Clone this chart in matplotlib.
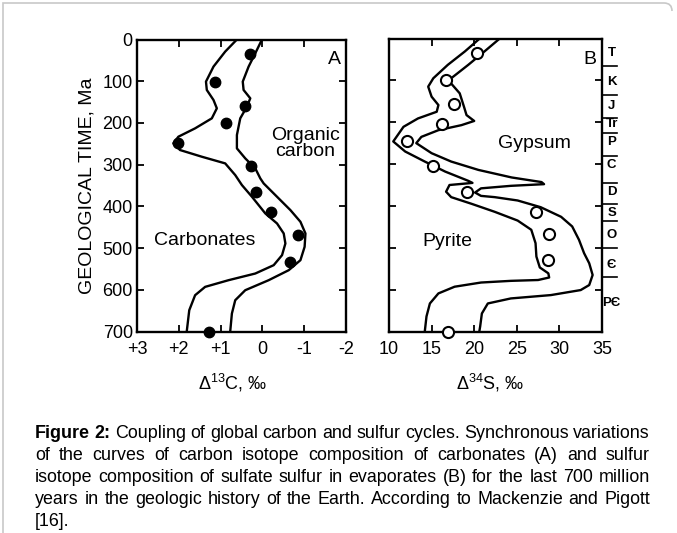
import matplotlib
matplotlib.use("Agg")
import matplotlib.pyplot as plt
from matplotlib.path import Path
from matplotlib.patches import PathPatch
from matplotlib import font_manager

plt.rcParams["font.family"] = ["Liberation Sans", "DejaVu Sans"]
plt.rcParams["mathtext.default"] = "regular"

W, H = 677, 533

# ---- panel A: delta 13C (per mil) vs age (Ma)
carb_d13c = [0.61, 0.89, 1.17, 1.35, 1.33, 1.17, 1.09, 1.21, 1.61, 2.01, 2.13, 1.97, 1.45,
             0.89, 0.65, 0.49, 0.25, -0.07, -0.35, -0.51, -0.55, -0.47, -0.27, 0.17, 0.81,
             1.37, 1.61, 1.75, 1.81]
carb_age = [0, 29, 65, 101, 121, 145, 165, 189, 213, 233, 249, 265, 281,
            297, 325, 349, 377, 417, 441, 465, 489, 517, 541, 561, 577,
            593, 613, 649, 700]
org_d13c = [0.01, 0.17, 0.33, 0.47, 0.45, 0.29, 0.37, 0.53, 0.61, 0.61, 0.41, 0.17, 0.05,
            -0.03, -0.31, -0.67, -0.91, -1.03, -1.01, -0.91, -0.63, -0.15, 0.41, 0.65,
            0.73, 0.77]
org_age = [0, 33, 65, 101, 121, 141, 161, 189, 229, 261, 285, 309, 333,
           345, 373, 409, 437, 465, 497, 529, 553, 577, 601, 625, 657, 700]
dots_a_d13c = [0.29, 1.13, 0.41, 0.87, 2.03, 0.27, 0.15, -0.21, -0.85, -0.67, 1.27]
dots_a_age = [35, 101, 159, 201, 247, 303, 366, 414, 469, 533, 700]

# ---- panel B: delta 34S (per mil) vs age (Ma)
left_d34s = [20.65, 18.9, 16.9, 15.2, 14.6, 15.0, 15.8, 15.6, 13.4, 11.7, 10.5, 11.9,
             14.2, 16.6, 19.3, 19.8, 17.1, 16.7, 17.3, 19.7, 22.4, 25.1, 26.7, 27.2,
             27.3, 27.7, 28.7, 28.8, 27.5, 24.3, 20.8, 17.7, 15.8, 14.8, 14.4, 14.2]
left_age = [0, 31, 63, 95, 115, 139, 159, 175, 191, 211, 246, 270,
            294, 318, 340, 345, 350, 366, 379, 395, 414, 435, 457, 489,
            521, 547, 561, 571, 577, 579, 583, 593, 609, 633, 664, 700]
right_d34s = [23.0, 21.2, 19.3, 17.3, 17.1, 18.3, 18.8, 19.1, 20.0, 18.5, 15.8, 13.8,
              13.2, 15.0, 17.3, 20.5, 24.4, 27.9, 28.2, 24.3, 20.8, 20.1, 20.8, 22.4,
              25.1, 27.8, 30.2, 31.5, 32.3, 32.9, 33.5, 33.9, 33.5, 32.5, 29.0, 24.3,
              21.6, 20.9, 20.7, 20.6]
right_age = [0, 31, 63, 95, 103, 131, 163, 183, 197, 207, 219, 235,
             250, 274, 294, 314, 332, 343, 348, 352, 358, 368, 376, 379,
             387, 403, 426, 449, 481, 513, 537, 565, 589, 601, 613, 621,
             633, 657, 688, 700]
dots_b_d34s = [20.3, 16.7, 17.6, 16.2, 12.1, 15.2, 19.1, 27.2, 28.8, 28.7, 16.9]
dots_b_age = [35, 99, 157, 205, 246, 304, 366, 415, 467, 529, 700]

# ---- geological periods (old time scale)
period_names = ["T", "K", "J", "Tr", "P", "C", "D", "S", "O", "Є", "PЄ"]
period_label_age = [35, 104, 162, 205, 247, 302, 366, 417, 469, 540, 632]
period_bounds = [65, 136, 190, 225, 280, 345, 395, 435, 500, 570]

caption_lines = [
    "Coupling of global carbon and sulfur cycles. Synchronous variations",
    "of the curves of carbon isotope composition of carbonates (A) and sulfur",
    "isotope composition of sulfate sulfur in evaporates (B) for the last 700 million",
    "years in the geologic history of the Earth. According to Mackenzie and Pigott",
    "[16].",
]

fig = plt.figure(figsize=(W / 100, H / 100), dpi=100)


def box(x0, y0, x1, y1):
    return [x0 / W, 1 - y1 / H, (x1 - x0) / W, (y1 - y0) / H]


ax_a = fig.add_axes(box(137, 39.5, 346, 331.5))
ax_b = fig.add_axes(box(389, 38.5, 602, 331.5))

for ax in (ax_a, ax_b):
    ax.set_ylim(700, 0)
    ax.set_yticks(range(0, 701, 100))
    ax.tick_params(direction="in", length=5, width=1.3, top=True, right=True,
                   labelsize=13, pad=3, colors="black")
    ax.tick_params(axis="x", pad=7)
    for sp in ax.spines.values():
        sp.set_linewidth(1.7)

lw = 1.7
ax_a.set_xlim(3, -2)
ax_a.set_xticks([3, 2, 1, 0, -1, -2])
ax_a.set_xticklabels(["+3", "+2", "+1", "0", "-1", "-2"])
ax_a.plot(carb_d13c, carb_age, color="black", lw=lw, solid_joinstyle="round")
ax_a.plot(org_d13c, org_age, color="black", lw=lw, solid_joinstyle="round")
ax_a.plot(dots_a_d13c, dots_a_age, "o", ms=7.5, color="black", clip_on=False, zorder=3)
ax_a.text(0.945, 0.93, "A", transform=ax_a.transAxes, fontsize=14, ha="center", va="center")
ax_a.text(-1.03, 250, "Organic\ncarbon", fontsize=14, ha="center", va="center", linespacing=0.95)
ax_a.text(1.37, 481, "Carbonates", fontsize=14, ha="center", va="center")
fig.text(87 / W, 1 - 186 / H, "GEOLOGICAL TIME, Ma", fontsize=14, rotation=90,
         ha="center", va="center")

ax_b.set_xlim(10, 35)
ax_b.set_xticks([10, 15, 20, 25, 30, 35])
ax_b.tick_params(labelleft=False)
ax_b.plot(left_d34s, left_age, color="black", lw=lw, solid_joinstyle="round")
ax_b.plot(right_d34s, right_age, color="black", lw=lw, solid_joinstyle="round")
ax_b.plot(dots_b_d34s, dots_b_age, "o", ms=8, mfc="white", mec="black", mew=1.5,
          clip_on=False, zorder=3)
ax_b.text(0.945, 0.93, "B", transform=ax_b.transAxes, fontsize=14, ha="center", va="center")
ax_b.text(27.1, 250, "Gypsum", fontsize=14, ha="center", va="center")
ax_b.text(16.9, 486, "Pyrite", fontsize=14, ha="center", va="center")

tr = ax_b.get_yaxis_transform()
for name, age in zip(period_names, period_label_age):
    ax_b.text(1.045, age, name, transform=tr, fontsize=9.5, fontweight="bold",
              ha="center", va="center", clip_on=False)
for age in period_bounds:
    ax_b.plot([1.0, 1.07], [age, age], transform=tr, color="black", lw=1.2, clip_on=False)

fig.text(233 / W, 1 - 390 / H, "Δ$^{13}$C, ‰", fontsize=13, ha="center", va="baseline")
fig.text(490 / W, 1 - 390 / H, "Δ$^{34}$S, ‰", fontsize=13, ha="center", va="baseline")

# caption, justified between x0 and x1 except the last line
x0, x1 = 35, 650
baselines = [438, 460, 482, 504, 526]
cap_family = "Liberation Sans"
try:
    font_manager.findfont(font_manager.FontProperties(family="Liberation Sans Narrow"),
                          fallback_to_default=False)
    cap_family = "Liberation Sans Narrow"
except ValueError:
    pass

fig.canvas.draw()
rend = fig.canvas.get_renderer()
probe = fig.text(0, 0, "Figure 2: " + caption_lines[0], fontsize=12, family=cap_family)
cap_size = 12 * (x1 - x0) / probe.get_window_extent(rend).width
probe.remove()

for i, (line, yb) in enumerate(zip(caption_lines, baselines)):
    items = []
    if i == 0:
        items += [("Figure", "bold"), ("2:", "bold")]
    items += [(w, "normal") for w in line.split(" ")]
    texts = [fig.text(0, 1 - yb / H, w, fontweight=fw, va="baseline",
                      fontsize=cap_size, family=cap_family) for w, fw in items]
    widths = [t.get_window_extent(rend).width for t in texts]
    space = 4
    if i < len(caption_lines) - 1:
        space = (x1 - x0 - sum(widths)) / (len(texts) - 1)
    x = x0
    for t, w in zip(texts, widths):
        t.set_x(x / W)
        x += w + space

# page frame
frame = Path([(3, H), (3, 3), (664, 3), (672, 3), (672, 11)],
             [Path.MOVETO, Path.LINETO, Path.LINETO, Path.CURVE3, Path.CURVE3])
frame = Path([(x / W, 1 - y / H) for x, y in frame.vertices], frame.codes)
fig.patches.append(PathPatch(frame, transform=fig.transFigure, fill=False,
                             edgecolor="#c8c8c8", lw=1.2))

fig.savefig("out.png", dpi=100)
